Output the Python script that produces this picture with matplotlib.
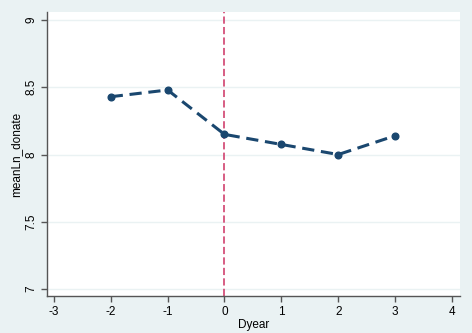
import matplotlib.pyplot as plt

dyear = [-2, -1, 0, 1, 2, 3]
mean_ln_donate = [8.43, 8.48, 8.15, 8.075, 8.0, 8.14]
xticks = [-3, -2, -1, 0, 1, 2, 3, 4]
yticks = [7, 7.5, 8, 8.5, 9]
ytick_labels = ['7', '7.5', '8', '8.5', '9']

plt.rcParams['font.family'] = ['Liberation Sans', 'DejaVu Sans']
plt.rcParams['axes.unicode_minus'] = False

bg = '#EAF2F3'
fig = plt.figure(figsize=(4.72, 3.33), dpi=100, facecolor=bg)
ax = fig.add_axes([47 / 472, 37 / 333, 413 / 472, 284 / 333])
ax.set_facecolor('white')

ax.plot(dyear, mean_ln_donate, color='#1A476F', lw=2.2, ls=(0, (4, 2.2)),
        marker='o', ms=4.8, zorder=3)
ax.axvline(0, color='#D4507A', lw=1.3, ls=(0, (4, 1.8)), zorder=2)

ax.set_xlim(-3.12, 4.14)
ax.set_ylim(6.948, 9.06)
ax.set_xticks(xticks)
ax.set_yticks(yticks)
ax.set_yticklabels(ytick_labels, rotation=90, va='center')
ax.grid(axis='y', color=bg, lw=1)
ax.set_axisbelow(True)

for s in ['top', 'right']:
    ax.spines[s].set_visible(False)
for s in ['left', 'bottom']:
    ax.spines[s].set_color('#555555')
    ax.spines[s].set_linewidth(1)
ax.tick_params(direction='out', length=4, width=1, color='#555555',
               labelsize=8.5, pad=3)

ax.set_xlabel('Dyear', fontsize=8.5, labelpad=1)
ax.set_ylabel('meanLn_donate', fontsize=8.5, labelpad=2)

fig.savefig('out.png', dpi=100, facecolor=bg)
